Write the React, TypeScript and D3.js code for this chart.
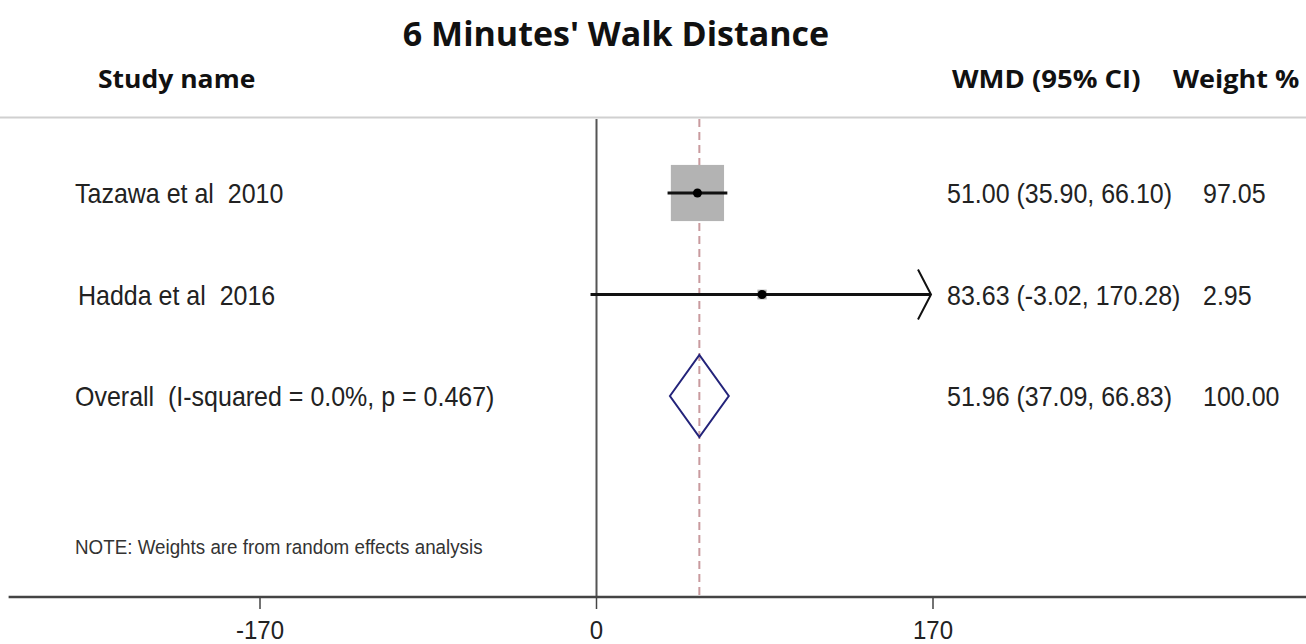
import React from "react";
import * as d3 from "d3";

// Study-level estimates (weighted mean difference, 95% CI, weight %)
const studies = ["Tazawa et al  2010", "Hadda et al  2016"];
const estimates = [51.0, 83.63];
const lowerCI = [35.9, -3.02];
const upperCI = [66.1, 170.28];
const weights = [97.05, 2.95];

// Pooled random-effects estimate
const overallLabel = "Overall  (I-squared = 0.0%, p = 0.467)";
const overall = { est: 51.96, lo: 37.09, hi: 66.83, weight: 100.0 };

const axisTicks = [-170, 0, 170];
const axisExtent = [-297, 360];

const W = 1306;
const H = 644;

const fmt = (v: number) => v.toFixed(2);

export default function App() {
  const x = d3.scaleLinear().domain([-170, 170]).range([260, 933]);
  const rowY = d3
    .scalePoint<number>()
    .domain([0, 1, 2])
    .range([193, 396]);

  const clipHi = 170; // upper display limit; CIs beyond it get an arrow
  const boxW = (w: number) => Math.sqrt(w / 100) * 54;
  const boxH = (w: number) => Math.sqrt(w / 100) * 57;

  const sans = "'Liberation Sans', Arial, sans-serif";
  const bold = "'Open Sans', 'Noto Sans', sans-serif";

  const T = (
    tx: number,
    ty: number,
    text: string,
    size: number,
    opts: {
      anchor?: string;
      family?: string;
      weight?: number;
      fill?: string;
      sy?: number;
    } = {}
  ) => (
    <text
      transform={`translate(${tx},${ty}) scale(1,${opts.sy ?? 1.1})`}
      fontSize={size}
      fontFamily={opts.family ?? sans}
      fontWeight={opts.weight ?? 400}
      textAnchor={opts.anchor ?? "start"}
      fill={opts.fill ?? "#222"}
      style={{ whiteSpace: "pre" }}
    >
      {text}
    </text>
  );

  const hdr = { family: bold, weight: 700, fill: "#111", sy: 0.92 };

  return (
    <svg
      width={W}
      height={H}
      style={{ position: "absolute", left: 0, top: 0, background: "#fff" }}
    >
      {/* Title and column headers */}
      {T(616, 46, "6 Minutes' Walk Distance", 34, {
        family: bold,
        weight: 700,
        fill: "#111",
        anchor: "middle",
        sy: 1,
      })}
      {T(98, 88, "Study name", 26.5, hdr)}
      {T(952, 88, "WMD (95% CI)", 27.5, hdr)}
      {T(1173, 88, "Weight %", 27, hdr)}
      <line x1={0} x2={W} y1={117.5} y2={117.5} stroke="#d0d0d0" strokeWidth={2} />

      {/* Line of no effect */}
      <line x1={x(0)} x2={x(0)} y1={119} y2={597} stroke="#555" strokeWidth={2} />

      {/* Pooled estimate reference line */}
      <line
        x1={x(overall.est)}
        x2={x(overall.est)}
        y1={119}
        y2={597}
        stroke="#c99a9e"
        strokeWidth={2}
        strokeDasharray="8,5"
      />

      {/* Study rows */}
      {studies.map((name, i) => {
        const cy = rowY(i)!;
        const bw = boxW(weights[i]);
        const bh = boxH(weights[i]);
        const clipped = upperCI[i] > clipHi;
        const xHi = x(Math.min(upperCI[i], clipHi)) - (clipped ? 2 : 0);
        return (
          <g key={name}>
            {bw > 8 && (
              <rect
                x={x(estimates[i]) - bw / 2}
                y={cy - bh / 2}
                width={bw}
                height={bh}
                fill="#b3b3b3"
              />
            )}
            <line
              x1={x(lowerCI[i])}
              x2={xHi}
              y1={cy}
              y2={cy}
              stroke="#111"
              strokeWidth={bw > 8 ? 3 : 2}
            />
            {clipped && (
              <path
                d={`M${xHi - 13},${cy - 25} L${xHi},${cy} L${xHi - 13},${cy + 25}`}
                fill="none"
                stroke="#111"
                strokeWidth={2}
              />
            )}
            <circle cx={x(estimates[i])} cy={cy} r={4.5} fill="#000" />
            {T(i === 1 ? 78 : 75, cy + 10, name, 25)}
            {T(947, cy + 10, `${fmt(estimates[i])} (${fmt(lowerCI[i])}, ${fmt(upperCI[i])})`, 25)}
            {T(1203, cy + 10, fmt(weights[i]), 25)}
          </g>
        );
      })}

      {/* Overall diamond */}
      {(() => {
        const cy = rowY(2)!;
        const half = 41;
        return (
          <g>
            <path
              d={`M${x(overall.lo)},${cy} L${x(overall.est)},${cy - half} L${x(overall.hi)},${cy} L${x(overall.est)},${cy + half} Z`}
              fill="none"
              stroke="#23237a"
              strokeWidth={2}
            />
            {T(75, cy + 10, overallLabel, 25)}
            {T(947, cy + 10, `${fmt(overall.est)} (${fmt(overall.lo)}, ${fmt(overall.hi)})`, 25)}
            {T(1203, cy + 10, fmt(overall.weight), 25)}
          </g>
        );
      })()}

      {T(75, 554, "NOTE: Weights are from random effects analysis", 18.8, { fill: "#333" })}

      {/* Horizontal axis */}
      <line
        x1={x(axisExtent[0])}
        x2={x(axisExtent[1])}
        y1={597}
        y2={597}
        stroke="#444"
        strokeWidth={2.5}
      />
      {axisTicks.map((t) => (
        <g key={t}>
          <line x1={x(t)} x2={x(t)} y1={597} y2={609} stroke="#444" strokeWidth={1.5} />
          {T(x(t), 639, String(t), 24, { anchor: "middle", sy: 1.05 })}
        </g>
      ))}
    </svg>
  );
}
